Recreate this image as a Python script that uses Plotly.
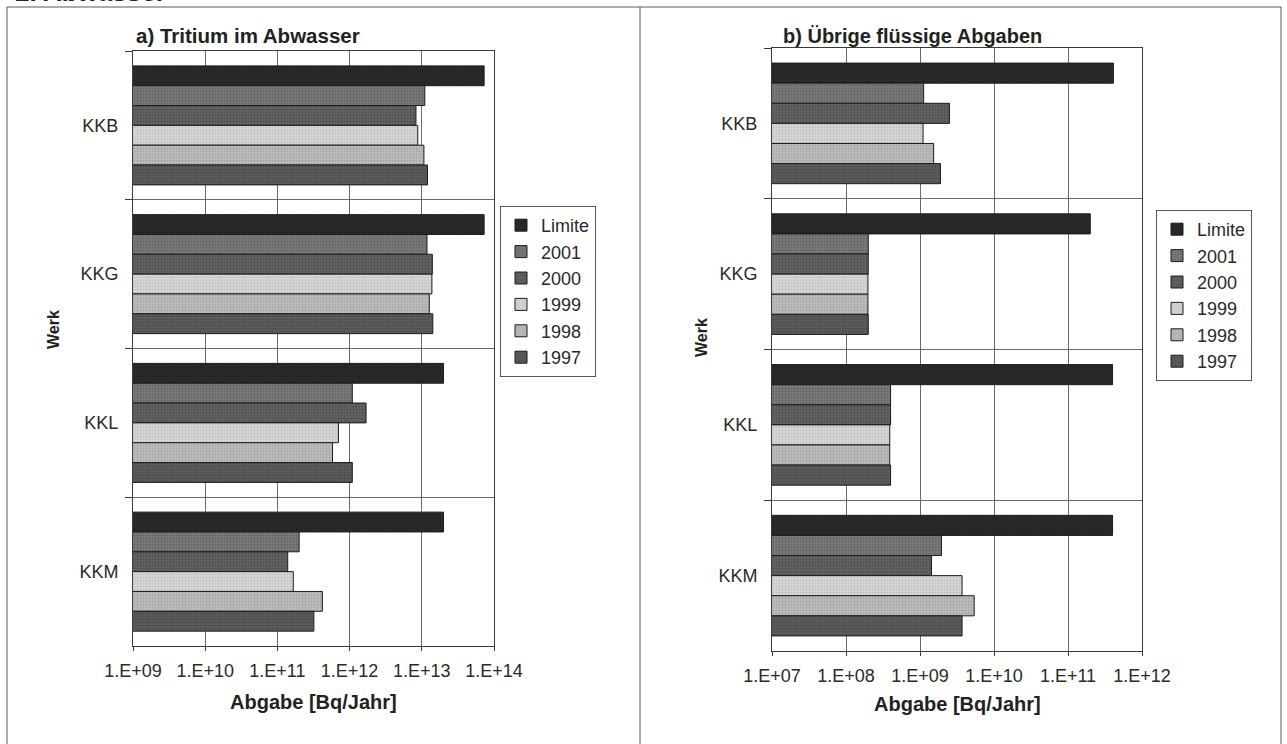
import plotly.graph_objects as go

W, H = 1287, 744
FONT = "Liberation Sans, Arial, Helvetica, sans-serif"

# Kernkraftwerke (categories, top to bottom)
werke = ["KKB", "KKG", "KKL", "KKM"]
serien = ["Limite", "2001", "2000", "1999", "1998", "1997"]

# a) Tritium im Abwasser [Bq/Jahr]
tritium_limite = [7.3e13, 7.3e13, 2.0e13, 2.0e13]
tritium_2001 = [1.10e13, 1.18e13, 1.09e12, 2.0e11]
tritium_2000 = [8.3e12, 1.40e13, 1.69e12, 1.39e11]
tritium_1999 = [8.8e12, 1.38e13, 7.0e11, 1.66e11]
tritium_1998 = [1.07e13, 1.27e13, 5.8e11, 4.2e11]
tritium_1997 = [1.20e13, 1.42e13, 1.09e12, 3.2e11]

# b) Übrige flüssige Abgaben [Bq/Jahr]
uebrige_limite = [4.1e11, 2.0e11, 4.0e11, 4.0e11]
uebrige_2001 = [1.12e9, 2.0e8, 4.0e8, 1.95e9]
uebrige_2000 = [2.5e9, 2.0e8, 4.0e8, 1.43e9]
uebrige_1999 = [1.10e9, 1.98e8, 3.9e8, 3.7e9]
uebrige_1998 = [1.53e9, 1.98e8, 3.9e8, 5.4e9]
uebrige_1997 = [1.89e9, 2.0e8, 4.0e8, 3.7e9]

# Axis ticks
ticks_a_vals = [1e9, 1e10, 1e11, 1e12, 1e13, 1e14]
ticks_a_text = ["1.E+09", "1.E+10", "1.E+11", "1.E+12", "1.E+13", "1.E+14"]
ticks_b_vals = [1e7, 1e8, 1e9, 1e10, 1e11, 1e12]
ticks_b_text = ["1.E+07", "1.E+08", "1.E+09", "1.E+10", "1.E+11", "1.E+12"]

# Grey fills with a fine halftone dot texture
fills = {
    "Limite": ("#2a2a2a", "#1a1a1a"),
    "2001": ("#7a7a7a", "#4a4a4a"),
    "2000": ("#626262", "#3a3a3a"),
    "1999": ("#d6d6d6", "#a8a8a8"),
    "1998": ("#bcbcbc", "#8a8a8a"),
    "1997": ("#5c5c5c", "#353535"),
}

tritium = [tritium_limite, tritium_2001, tritium_2000, tritium_1999, tritium_1998, tritium_1997]
uebrige = [uebrige_limite, uebrige_2001, uebrige_2000, uebrige_1999, uebrige_1998, uebrige_1997]


def px(xp):
    return xp / W


def py(yp):
    return 1 - yp / H


fig = go.Figure()

for panel, (data, xa, ya, leg) in enumerate(
    [(tritium, "x", "y", "legend"), (uebrige, "x2", "y2", "legend2")]
):
    for name, vals in zip(serien, data):
        base, dots = fills[name]
        fig.add_trace(
            go.Bar(
                y=werke,
                x=vals,
                orientation="h",
                name=name,
                xaxis=xa,
                yaxis=ya,
                legend=leg,
                legendgroup=f"{panel}-{name}",
                marker=dict(
                    color=base,
                    line=dict(color="#1c1c1c", width=1),
                    pattern=dict(shape=".", fgcolor=dots, bgcolor=base, size=3, solidity=0.35),
                ),
                hovertemplate="%{y}: %{x:.2e} Bq/Jahr<extra>" + name + "</extra>",
            )
        )

axis_common = dict(
    showline=True,
    linecolor="#3a3a3a",
    linewidth=1,
    mirror=True,
    showgrid=True,
    gridcolor="#6a6a6a",
    gridwidth=1,
    zeroline=False,
    automargin=False,
    tickfont=dict(family=FONT, size=18, color="#2a2a2a"),
    tickcolor="#3a3a3a",
)

legend_common = dict(
    xanchor="left",
    yanchor="top",
    bordercolor="#555555",
    borderwidth=1,
    bgcolor="white",
    font=dict(family=FONT, size=18, color="#2a2a2a"),
    itemwidth=30,
    traceorder="normal",
)

fig.update_layout(
    width=W,
    height=H,
    margin=dict(l=0, r=0, t=0, b=0),
    paper_bgcolor="white",
    plot_bgcolor="white",
    font=dict(family=FONT, size=18, color="#2a2a2a"),
    barmode="group",
    bargap=0.2,
    bargroupgap=0,
    xaxis=dict(
        axis_common,
        domain=[px(133), px(494)],
        type="log",
        range=[9, 14],
        tickvals=ticks_a_vals,
        ticktext=ticks_a_text,
        ticks="outside",
        ticklen=4,
        ticklabelstandoff=4,
        anchor="y",
    ),
    yaxis=dict(
        axis_common,
        domain=[py(646), py(51)],
        type="category",
        categoryorder="array",
        categoryarray=werke,
        autorange="reversed",
        tickson="boundaries",
        ticks="outside",
        ticklen=7,
        ticklabelstandoff=10,
        anchor="x",
    ),
    xaxis2=dict(
        axis_common,
        domain=[px(772), px(1142)],
        type="log",
        range=[7, 12],
        tickvals=ticks_b_vals,
        ticktext=ticks_b_text,
        ticks="outside",
        ticklen=4,
        ticklabelstandoff=4,
        anchor="y2",
    ),
    yaxis2=dict(
        axis_common,
        domain=[py(651), py(48)],
        type="category",
        categoryorder="array",
        categoryarray=werke,
        autorange="reversed",
        tickson="boundaries",
        ticks="outside",
        ticklen=7,
        ticklabelstandoff=10,
        anchor="x2",
    ),
    legend=dict(legend_common, x=px(500), y=py(206), tracegroupgap=5),
    legend2=dict(legend_common, x=px(1156), y=py(210), tracegroupgap=4),
)

# Outer frame with the divider between both panels
fig.add_shape(type="rect", xref="paper", yref="paper",
              x0=px(7), x1=px(1281), y0=-0.05, y1=py(7),
              line=dict(color="#5a5a5a", width=1))
fig.add_shape(type="line", xref="paper", yref="paper",
              x0=px(640), x1=px(640), y0=-0.05, y1=py(7),
              line=dict(color="#5a5a5a", width=1))

notes = [
    # section heading, partly above the page edge
    dict(text="<b>2. Abwasser</b>", x=px(13), y=py(9), xanchor="left", yanchor="bottom", size=26),
    dict(text="<b>a) Tritium im Abwasser</b>", x=px(134), y=py(36), xanchor="left", yanchor="middle", size=20.5),
    dict(text="<b>b) Übrige flüssige Abgaben</b>", x=px(781), y=py(36), xanchor="left", yanchor="middle", size=20),
    dict(text="<b>Abgabe [Bq/Jahr]</b>", x=px(313), y=py(702), xanchor="center", yanchor="middle", size=20),
    dict(text="<b>Abgabe [Bq/Jahr]</b>", x=px(957), y=py(704), xanchor="center", yanchor="middle", size=20),
]
for n in notes:
    fig.add_annotation(
        text=n["text"], x=n["x"], y=n["y"], xref="paper", yref="paper",
        xanchor=n["xanchor"], yanchor=n["yanchor"], showarrow=False,
        font=dict(family=FONT, size=n["size"], color="#222222"),
    )
for xw, yw in [(53, 330), (701, 338)]:
    fig.add_annotation(
        text="<b>Werk</b>", x=px(xw), y=py(yw), xref="paper", yref="paper",
        xanchor="center", yanchor="middle", showarrow=False, textangle=-90,
        font=dict(family=FONT, size=16, color="#222222"),
    )

fig.write_html("out.html")
